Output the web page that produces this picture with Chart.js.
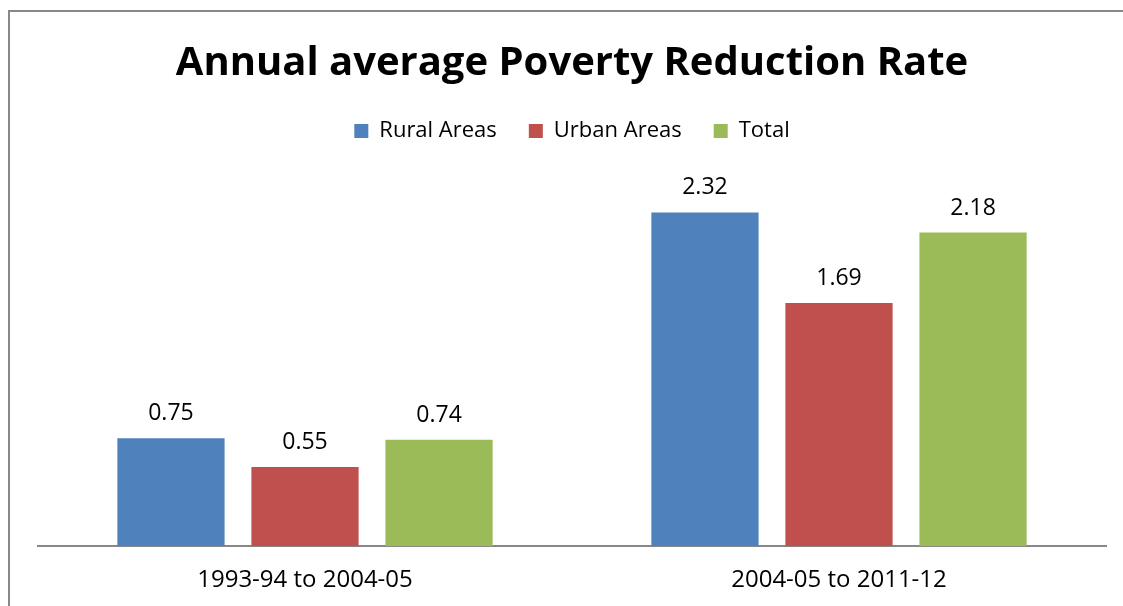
<!DOCTYPE html>
<html>
<head>
<meta charset="utf-8">
<script src="https://cdn.jsdelivr.net/npm/chart.js@4"></script>
<style>
    html, body { margin: 0; padding: 0; background: #fff; overflow: hidden; }
    #wrap { position: relative; width: 1123px; height: 606px; }
</style>
</head>
<body>
<div id="wrap"><canvas id="grafico" width="1123" height="606"></canvas></div>
<script>
const categorias = ['1993-94 to 2004-05', '2004-05 to 2011-12']
const rural = [0.75, 2.32]
const urbano = [0.55, 1.69]
const total = [0.74, 2.18]

// rotulos em cima das barras
const rotulos = {
    id: 'rotulos',
    afterDatasetsDraw(chart) {
        const ctx = chart.ctx
        ctx.save()
        ctx.font = '23px "Open Sans"'
        ctx.fillStyle = '#000'
        ctx.textAlign = 'center'
        ctx.textBaseline = 'alphabetic'
        chart.data.datasets.forEach((ds, i) => {
            chart.getDatasetMeta(i).data.forEach((barra, j) => {
                ctx.fillText(ds.data[j].toFixed(2), barra.x, barra.y - 18)
            })
        })
        ctx.restore()
    }
}

// moldura cinza do grafico
const moldura = {
    id: 'moldura',
    beforeDraw(chart) {
        const ctx = chart.ctx
        ctx.save()
        ctx.fillStyle = '#fff'
        ctx.fillRect(0, 0, chart.width, chart.height)
        ctx.strokeStyle = '#888'
        ctx.lineWidth = 2
        ctx.strokeRect(9, 11, chart.width + 20, chart.height + 20)
        ctx.restore()
    }
}

const ctx = document.getElementById('grafico').getContext('2d')
new Chart(ctx, {
    type: 'bar',
    data: {
        labels: categorias,
        datasets: [
            { label: 'Rural Areas', data: rural, backgroundColor: '#4F81BD' },
            { label: 'Urban Areas', data: urbano, backgroundColor: '#C0504D' },
            { label: 'Total', data: total, backgroundColor: '#9BBB59' }
        ]
    },
    options: {
        responsive: false,
        animation: false,
        categoryPercentage: 0.753,
        barPercentage: 0.8,
        layout: { padding: { left: 38, right: 17, top: 40, bottom: -1 } },
        scales: {
            x: {
                grid: { display: false },
                border: { color: '#888', width: 2 },
                ticks: { color: '#000', font: { family: 'Open Sans', size: 24 }, padding: 12 }
            },
            y: { display: false, min: 0, max: 2.74 }
        },
        plugins: {
            tooltip: { enabled: false },
            title: {
                display: true,
                text: 'Annual average Poverty Reduction Rate',
                color: '#000',
                font: { family: 'Open Sans', size: 40, weight: 'bold' },
                padding: { top: 0, bottom: 0 }
            },
            legend: {
                labels: {
                    color: '#000',
                    boxWidth: 14,
                    boxHeight: 14,
                    padding: 32,
                    font: { family: 'Open Sans', size: 22 }
                }
            }
        }
    },
    plugins: [moldura, rotulos]
})
</script>
</body>
</html>
